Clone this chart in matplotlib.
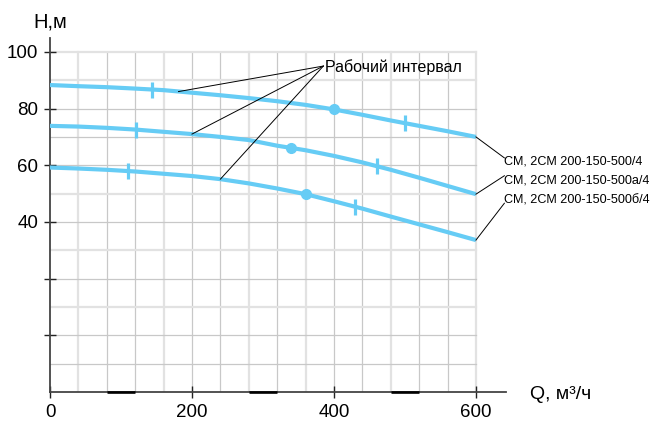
import matplotlib
matplotlib.use("Agg")
import matplotlib.pyplot as plt

plt.rcParams['font.family'] = ['Liberation Sans', 'DejaVu Sans']

# ---- data ----
Q = [0, 40, 80, 120, 160, 200, 240, 280, 320, 360, 400, 440, 480, 520, 560, 600]
H_500 = [88.3, 87.9, 87.55, 87.05, 86.5, 85.6, 84.7, 83.7, 82.6, 81.3, 79.7, 77.8, 75.8, 73.9, 72.0, 70.0]
H_500a = [73.9, 73.65, 73.2, 72.6, 71.8, 71.0, 70.0, 68.9, 66.9, 65.3, 63.3, 61.0, 58.4, 55.6, 52.7, 49.8]
H_500b = [59.2, 58.85, 58.4, 57.8, 57.0, 56.2, 55.1, 53.6, 51.8, 49.8, 47.3, 44.7, 41.9, 39.15, 36.4, 33.6]
series_labels = ["СМ, 2СМ 200-150-500/4", "СМ, 2СМ 200-150-500а/4", "СМ, 2СМ 200-150-500б/4"]

# best efficiency points (circles)
bep_Q = [400, 339, 360]
bep_H = [79.7, 66.1, 49.8]
# working interval bounds (vertical ticks)
wi_Q = [[144, 500], [121, 460], [110, 430]]
wi_H = [[86.7, 74.8], [72.6, 59.7], [57.95, 45.4]]
# points on curves referenced by "Рабочий интервал"
ann_Q = [181, 200, 240]
ann_H = [86.0, 71.0, 55.1]
ann_text = "Рабочий интервал"

x_ticks = [0, 200, 400, 600]
x_ticklabels = ["0", "200", "400", "600"]
y_ticks = [0, 20, 40, 60, 80, 100]
y_ticklabels = ["", "", "40", "60", "80", "100"]

W, Hpx = 654, 423
fig = plt.figure(figsize=(W / 100, Hpx / 100), dpi=100)
ax = fig.add_axes([50 / W, 31 / Hpx, 456 / W, 354 / Hpx])
ax.set_xlim(0, 642.3)
ax.set_ylim(-20, 104.9)

# grid
light_x = [40, 160, 280, 360, 480, 600]
for gx in range(40, 601, 40):
    if gx in light_x:
        ax.plot([gx, gx], [-20, 100], color='#e2e2e2', lw=1.6, zorder=1)
    else:
        ax.plot([gx, gx], [-20, 100], color='#c8c8c8', lw=0.9, zorder=1)
light_y = [100, 90, 50, 30, 10]
for gy in range(-10, 101, 10):
    if gy in light_y:
        ax.plot([0, 600], [gy, gy], color='#e2e2e2', lw=1.6, zorder=1)
    else:
        ax.plot([0, 600], [gy, gy], color='#c8c8c8', lw=0.9, zorder=1)

# thick segments on x axis
for a, b in [(80, 120), (280, 320), (480, 520)]:
    ax.plot([a, b], [-20, -20], color='black', lw=1.9, zorder=4, clip_on=False, solid_capstyle='butt')

for s in ['top', 'right']:
    ax.spines[s].set_visible(False)
for s in ['left', 'bottom']:
    ax.spines[s].set_color('#444444')
    ax.spines[s].set_linewidth(1.3)

ax.set_xticks(x_ticks)
ax.set_xticklabels(x_ticklabels)
ax.set_yticks(y_ticks)
ax.set_yticklabels(y_ticklabels)
ax.tick_params(direction='inout', length=9, width=1.0, color='#222222',
               labelsize=13.5, pad=4)

color = '#66ccf5'
curves = [H_500, H_500a, H_500b]
for i, Hs in enumerate(curves):
    ax.plot(Q, Hs, color=color, lw=3.0, solid_capstyle='butt', zorder=3)
    ax.plot(bep_Q[i], bep_H[i], 'o', color=color, ms=7, zorder=5)
    ax.plot(wi_Q[i], wi_H[i], '|', color=color, ms=11, mew=2.3, zorder=5)

# annotation "Рабочий интервал"
conv = (385, 95.0)
for q, h in zip(ann_Q, ann_H):
    ax.plot([q, conv[0]], [h, conv[1]], color='black', lw=0.7, zorder=6)
ax.text(387, 93.05, ann_text, fontsize=11.5, va='baseline', ha='left', zorder=7)

# right labels with leaders
leader_end_H = [62.6, 56.3, 46.6]
label_base_H = [60.4, 53.7, 46.6]
for i, Hs in enumerate(curves):
    ax.plot([600, 640], [Hs[-1], leader_end_H[i]], color='black', lw=0.7,
            clip_on=False, zorder=6)
    ax.text(640, label_base_H[i], series_labels[i], fontsize=9.1, va='baseline',
            ha='left', clip_on=False)

# axis titles
fig.text(33 / W, 1 - 27.3 / Hpx, "H,м", fontsize=14.5, va='baseline', ha='left')
fig.text(530 / W, 1 - 399 / Hpx, "Q, м³/ч", fontsize=14, va='baseline', ha='left')

fig.savefig("out.png", dpi=100)
